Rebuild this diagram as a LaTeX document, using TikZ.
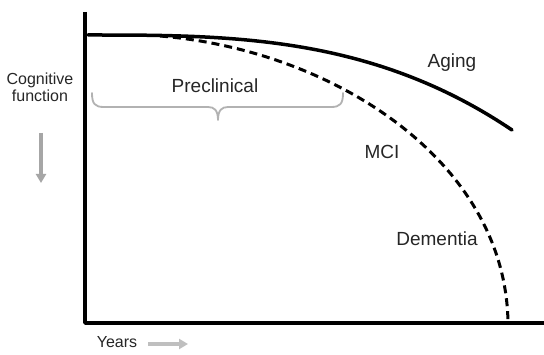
\documentclass[tikz,border=0pt]{standalone}
\usepackage{fontspec}
\setmainfont{Liberation Sans}
\usetikzlibrary{arrows.meta}
\tikzset{
  lbl/.style={inner sep=0pt, font=\fontsize{19}{21}\selectfont, text=black!85},
  smalllbl/.style={inner sep=0pt, font=\fontsize{16}{18}\selectfont, text=black!85, align=center},
  axis/.style={line width=3.5pt, black},
  agingcurve/.style={line width=3.5pt, black},
  mcicurve/.style={line width=3pt, black, dash pattern=on 8pt off 5pt},
  bracestyle/.style={line width=1.8pt, black!30},
  hint/.style={line width=3.5pt, black!35, -{Triangle[length=9pt,width=10pt]}}
}
\begin{document}
\begin{tikzpicture}[x=1pt,y=-1pt]
\useasboundingbox[fill=white] (0,0) rectangle (544,355);
% axes
\coordinate (ytop) at (85,12);
\coordinate (origin) at (85,323);
\coordinate (xend) at (544,323);
\draw[axis, line join=round] (ytop) -- (origin) -- (xend);
% aging curve
\coordinate (a0) at (88,35);
\coordinate (a1) at (512,130);
\draw[agingcurve, line cap=round] (a0) .. controls (229,35) and (371,35) .. (a1);
% MCI / dementia curve
\coordinate (m0) at (160,36);
\coordinate (m1) at (508,323);
\draw[mcicurve] (m0) .. controls (332,50) and (506,160) .. (m1);
% brace
\coordinate (b0) at (92,93);
\coordinate (btip) at (218,120);
\coordinate (b1) at (343,93);
\draw[bracestyle, line cap=round, line join=round] (b0) .. controls (92,104) and (95,107) .. (104,107) -- (208,107) .. controls (214,107) and (218,110) .. (btip)
  .. controls (218,110) and (222,107) .. (228,107) -- (331,107) .. controls (340,107) and (343,104) .. (b1);
% labels
\node[lbl] (pre) at (215,86) {Preclinical};
\node[lbl] (aging) at (452,63) {Aging};
\node[lbl] (mci) at (382,152) {MCI};
\node[lbl] (dem) at (437,239) {Dementia};
\node[smalllbl] (cog) at (40,87) {Cognitive\\[-1pt]function};
\node[smalllbl] (years) at (117,342) {Years};
% hint arrows
\coordinate (ca0) at (41,133);
\coordinate (ca1) at (41,183);
\draw[hint] (ca0) -- (ca1);
\coordinate (ya0) at (148,344);
\coordinate (ya1) at (188,344);
\draw[hint, black!25] (ya0) -- (ya1);
\end{tikzpicture}
\end{document}
